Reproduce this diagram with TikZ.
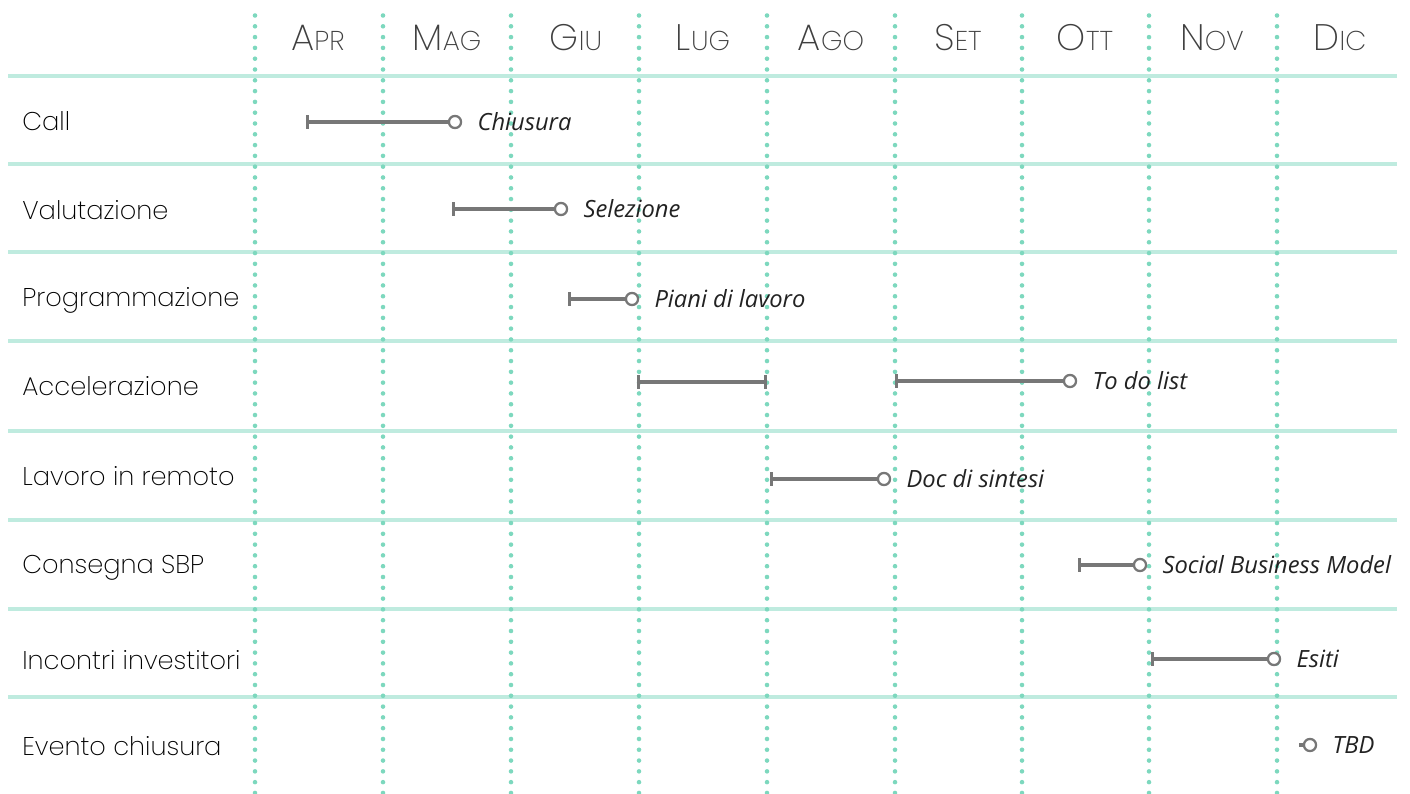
\documentclass[tikz,border=0pt]{standalone}
\usepackage{fontspec}
\setmainfont{Open Sans}
\newfontfamily\thinfont{Poppins ExtraLight}
\usetikzlibrary{arrows.meta,positioning}

\definecolor{mint}{HTML}{7DD8BE}
\definecolor{mintline}{HTML}{BFEBDF}
\definecolor{bargray}{HTML}{777777}
\definecolor{inkdark}{HTML}{222222}

% month heading in fake small caps
\newcommand{\mese}[2]{{\fontsize{21}{21}\selectfont #1}{\fontsize{15.5}{15.5}\selectfont #2}}

\begin{document}
\begin{tikzpicture}
             %% setup
             [
                 x=0.02cm, y=-0.02cm,
                 monthnode/.style={anchor=base, inner sep=0pt, font=\thinfont, text=black!75},
                 rownode/.style={anchor=base west, inner sep=0pt, font=\thinfont\fontsize{14.6}{16}\selectfont, text=black},
                 outnode/.style={inner sep=0pt, font=\itshape\fontsize{13.5}{14}\selectfont, text=inkdark},
                 endnode/.style={circle, draw=bargray, fill=white, line width=1.3pt, minimum size=6.9pt, inner sep=0pt},
                 barline/.style={draw=bargray, line width=1.75pt, {Bar[width=7.5pt,line width=1.5pt]}-},
                 gridrow/.style={draw=mintline, line width=2.8pt},
                 gridcol/.style={draw=mint, line width=2.6pt, line cap=round, dash pattern=on 0pt off 0.216cm},
                 node distance=0.3cm,
             ]
                 \useasboundingbox (0,0) rectangle (1410,794);

                 %% Grid
                 \foreach \y in {76,164,252,341,431,520,609,697}
                     \draw[gridrow] (8,\y) -- (1397,\y);
                 \foreach \x in {255,383,511,639,767,895,1022,1149,1277}
                     \draw[gridcol] (\x,15.5) -- (\x,794);

                 %% Months
                 \node [monthnode] (apr) at (318,51) {\mese{A}{PR}};
                 \node [monthnode] (mag) at (447,51) {\mese{M}{AG}};
                 \node [monthnode] (giu) at (576,51) {\mese{G}{IU}};
                 \node [monthnode] (lug) at (703,51) {\mese{L}{UG}};
                 \node [monthnode] (ago) at (831,51) {\mese{A}{GO}};
                 \node [monthnode] (set) at (958,51) {\mese{S}{ET}};
                 \node [monthnode] (ott) at (1085,51) {\mese{O}{TT}};
                 \node [monthnode] (nov) at (1212,51) {\mese{N}{OV}};
                 \node [monthnode] (dic) at (1340,51) {\mese{D}{IC}};

                 %% Rows
                 \node [rownode] (call) at (22,131) {Call};
                 \node [rownode] (valutazione) at (22,219) {Valutazione};
                 \node [rownode] (programmazione) at (22,306) {Programmazione};
                 \node [rownode] (accelerazione) at (22,395) {Accelerazione};
                 \node [rownode] (remoto) at (22,485) {Lavoro in remoto};
                 \node [rownode] (consegna) at (22,573) {Consegna SBP};
                 \node [rownode] (incontri) at (22,669) {Incontri investitori};
                 \node [rownode] (evento) at (22,755) {Evento chiusura};

                 %% Bars
                 \coordinate (callStart) at (306,122);
                 \node [endnode] (callEnd) at (455,122) {};
                 \node [outnode] (chiusura) [right=of callEnd] {Chiusura};

                 \coordinate (valStart) at (452,209);
                 \node [endnode] (valEnd) at (561,209) {};
                 \node [outnode] (selezione) [right=of valEnd] {Selezione};

                 \coordinate (progStart) at (568,299);
                 \node [endnode] (progEnd) at (632,299) {};
                 \node [outnode] (piani) [right=of progEnd] {Piani di lavoro};

                 \coordinate (accStartA) at (637,382);
                 \coordinate (accEndA) at (767,382);
                 \coordinate (accStartB) at (895,381);
                 \node [endnode] (accEndB) at (1070,381) {};
                 \node [outnode] (todo) [right=of accEndB] {To do list};

                 \coordinate (remStart) at (770,479);
                 \node [endnode] (remEnd) at (884,479) {};
                 \node [outnode] (sintesi) [right=of remEnd] {Doc di sintesi};

                 \coordinate (consStart) at (1078,565);
                 \node [endnode] (consEnd) at (1140,565) {};
                 \node [outnode] (sbm) [right=of consEnd] {Social Business Model};

                 \coordinate (incStart) at (1151,659);
                 \node [endnode] (incEnd) at (1274,659) {};
                 \node [outnode] (esiti) [right=of incEnd] {Esiti};

                 \coordinate (evtStart) at (1299,745);
                 \node [endnode] (evtEnd) at (1310,745) {};
                 \node [outnode] (tbd) [right=of evtEnd] {TBD};

                 %% Lines
                 \draw[barline] (callStart) -- (callEnd);
                 \draw[barline] (valStart) -- (valEnd);
                 \draw[barline] (progStart) -- (progEnd);
                 \draw[barline, {Bar[width=7.5pt,line width=1.5pt]}-{Bar[width=7.5pt,line width=1.5pt]}] (accStartA) -- (accEndA);
                 \draw[barline] (accStartB) -- (accEndB);
                 \draw[barline] (remStart) -- (remEnd);
                 \draw[barline] (consStart) -- (consEnd);
                 \draw[barline] (incStart) -- (incEnd);
                 \draw[draw=bargray, line width=1.75pt] (evtStart) -- (evtEnd);

        \end{tikzpicture}
\end{document}
